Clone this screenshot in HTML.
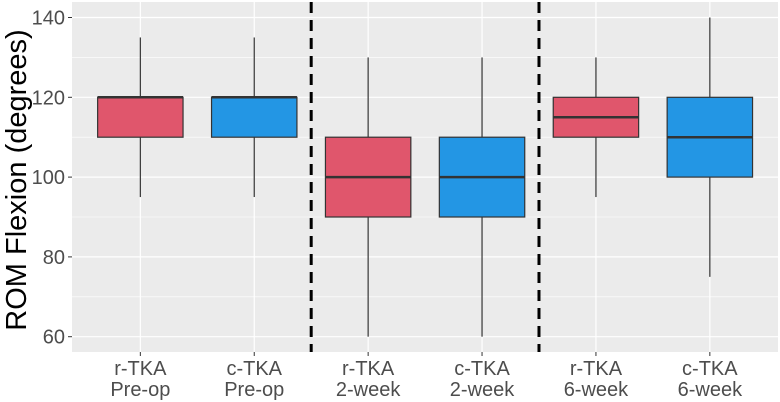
<!DOCTYPE html>
<html><head><meta charset="utf-8"><style>
body{margin:0;background:#fff}
svg{display:block;font-family:"Liberation Sans",sans-serif}
</style></head><body>
<svg id="chart" width="780" height="402">
<rect x="72" y="2" width="706" height="350" fill="#ebebeb"/>
<g id="grid"></g><g id="marks"></g><g id="axes"></g>
<text transform="translate(26,180) rotate(-90)" text-anchor="middle" font-size="29" fill="#000">ROM Flexion (degrees)</text>
</svg>
<script>
const categories=["r-TKA|Pre-op","c-TKA|Pre-op","r-TKA|2-week","c-TKA|2-week","r-TKA|6-week","c-TKA|6-week"];
const whiskerLow=[95,95,60,60,95,75];
const q1=[110,110,90,90,110,100];
const median=[120,120,100,100,115,110];
const q3=[120,120,110,110,120,120];
const whiskerHigh=[135,135,130,130,130,140];
const yTicks=[60,80,100,120,140];
const dividers=[1.5,3.5];
const ns="http://www.w3.org/2000/svg";
const X=i=>72+(i+0.6)*113.9;
const Y=v=>17.5+(140-v)*3.99;
function mk(p,t,a){const e=document.createElementNS(ns,t);for(const k in a)e.setAttribute(k,a[k]);p.appendChild(e);return e;}
const grid=document.getElementById('grid'),marks=document.getElementById('marks'),axes=document.getElementById('axes');
for(let v=50;v<=140;v+=10){const y=Y(v);if(y<2||y>352)continue;
 const l=mk(grid,'line',{x1:72,x2:778,y1:y,y2:y,stroke:'#fff','stroke-width':v%20===0?1.2:0.6});
 
 }
categories.forEach((c,i)=>{const l=mk(grid,'line',{x1:X(i),x2:X(i),y1:2,y2:352,stroke:'#fff','stroke-width':1.2});
 
 });
const bw=85.4;
categories.forEach((c,i)=>{const x=X(i);const col=i%2===0?'#e0566c':'#2396e4';
 const g=mk(marks,'g',{});
 
 
 mk(g,'line',{x1:x,x2:x,y1:Y(whiskerHigh[i]),y2:Y(q3[i]),stroke:'#333','stroke-width':1.2});
 mk(g,'line',{x1:x,x2:x,y1:Y(q1[i]),y2:Y(whiskerLow[i]),stroke:'#333','stroke-width':1.2});
 mk(g,'rect',{x:x-bw/2,y:Y(q3[i]),width:bw,height:Y(q1[i])-Y(q3[i]),fill:col,stroke:'#333','stroke-width':1.2});
 mk(g,'line',{x1:x-bw/2,x2:x+bw/2,y1:Y(median[i]),y2:Y(median[i]),stroke:'#333','stroke-width':2.5});
 const parts=c.split('|');
 mk(axes,'line',{x1:x,x2:x,y1:352,y2:356,stroke:'#333'});
 const t=mk(axes,'text',{x:x,y:375,'text-anchor':'middle','font-size':20,fill:'#4d4d4d'});
 
 
 mk(t,'tspan',{x:x,dy:0}).textContent=parts[0];
 mk(t,'tspan',{x:x,dy:21}).textContent=parts[1];
});
dividers.forEach(d=>{const x=X(d);const l=mk(marks,'line',{x1:x,x2:x,y1:2,y2:352,stroke:'#000','stroke-width':3,'stroke-dasharray':'11,7'});
 
 });
yTicks.forEach(v=>{const y=Y(v);mk(axes,'line',{x1:68,x2:72,y1:y,y2:y,stroke:'#333'});
 const t=mk(axes,'text',{x:65,y:y+7,'text-anchor':'end','font-size':20,fill:'#4d4d4d'});
 t.textContent=v;
 
 });
</script>
</body></html>
